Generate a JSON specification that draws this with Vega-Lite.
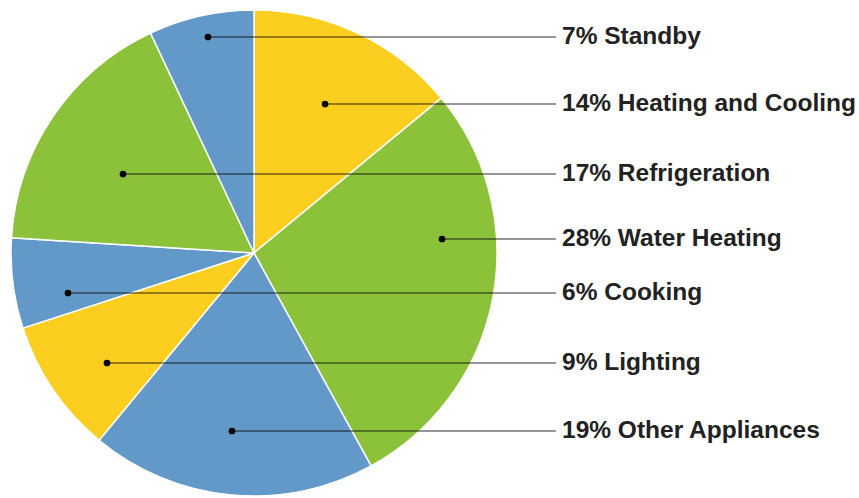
{
  "$schema": "https://vega.github.io/schema/vega-lite/v6.json",
  "width": 859,
  "height": 498,
  "padding": 0,
  "autosize": {"type": "none"},
  "background": "white",
  "config": {"view": {"stroke": null}},
  "data": {
    "values": [
      {"ord": 1, "label": "Heating and Cooling", "pct": 14, "dotx": 325, "doty": 104},
      {"ord": 2, "label": "Water Heating", "pct": 28, "dotx": 442, "doty": 239},
      {"ord": 3, "label": "Other Appliances", "pct": 19, "dotx": 232, "doty": 431},
      {"ord": 4, "label": "Lighting", "pct": 9, "dotx": 107, "doty": 363},
      {"ord": 5, "label": "Cooking", "pct": 6, "dotx": 68, "doty": 293},
      {"ord": 6, "label": "Refrigeration", "pct": 17, "dotx": 123, "doty": 174},
      {"ord": 7, "label": "Standby", "pct": 7, "dotx": 208, "doty": 37}
    ]
  },
  "transform": [
    {"calculate": "datum.pct + '% ' + datum.label", "as": "text"}
  ],
  "layer": [
    {
      "mark": {"type": "arc", "outerRadius": 243, "stroke": "#ffffff", "strokeWidth": 1.5},
      "encoding": {
        "x": {"datum": 254, "type": "quantitative", "scale": {"domain": [0, 859], "zero": false, "nice": false}, "axis": null},
        "y": {"datum": 253, "type": "quantitative", "scale": {"domain": [0, 498], "reverse": true, "zero": false, "nice": false}, "axis": null},
        "theta": {"field": "pct", "type": "quantitative", "stack": true},
        "order": {"field": "ord", "type": "quantitative"},
        "color": {
          "field": "label",
          "type": "nominal",
          "legend": null,
          "scale": {
            "domain": ["Heating and Cooling", "Water Heating", "Other Appliances", "Lighting", "Cooking", "Refrigeration", "Standby"],
            "range": ["#FCCE1F", "#8CC13A", "#6399C8", "#FCCE1F", "#6399C8", "#8CC13A", "#6399C8"]
          }
        }
      }
    },
    {
      "mark": {"type": "rule", "color": "#000000", "opacity": 0.55, "strokeWidth": 1.5},
      "encoding": {
        "x": {"field": "dotx", "type": "quantitative"},
        "x2": {"datum": 556},
        "y": {"field": "doty", "type": "quantitative"}
      }
    },
    {
      "mark": {"type": "point", "filled": true, "color": "#000000", "opacity": 1, "size": 45},
      "encoding": {
        "x": {"field": "dotx", "type": "quantitative"},
        "y": {"field": "doty", "type": "quantitative"}
      }
    },
    {
      "mark": {"type": "text", "align": "left", "baseline": "middle", "font": "Liberation Sans", "fontWeight": "bold", "fontSize": 24.5, "color": "#222222"},
      "encoding": {
        "x": {"datum": 562, "type": "quantitative"},
        "y": {"field": "doty", "type": "quantitative"},
        "text": {"field": "text", "type": "nominal"}
      }
    }
  ]
}
